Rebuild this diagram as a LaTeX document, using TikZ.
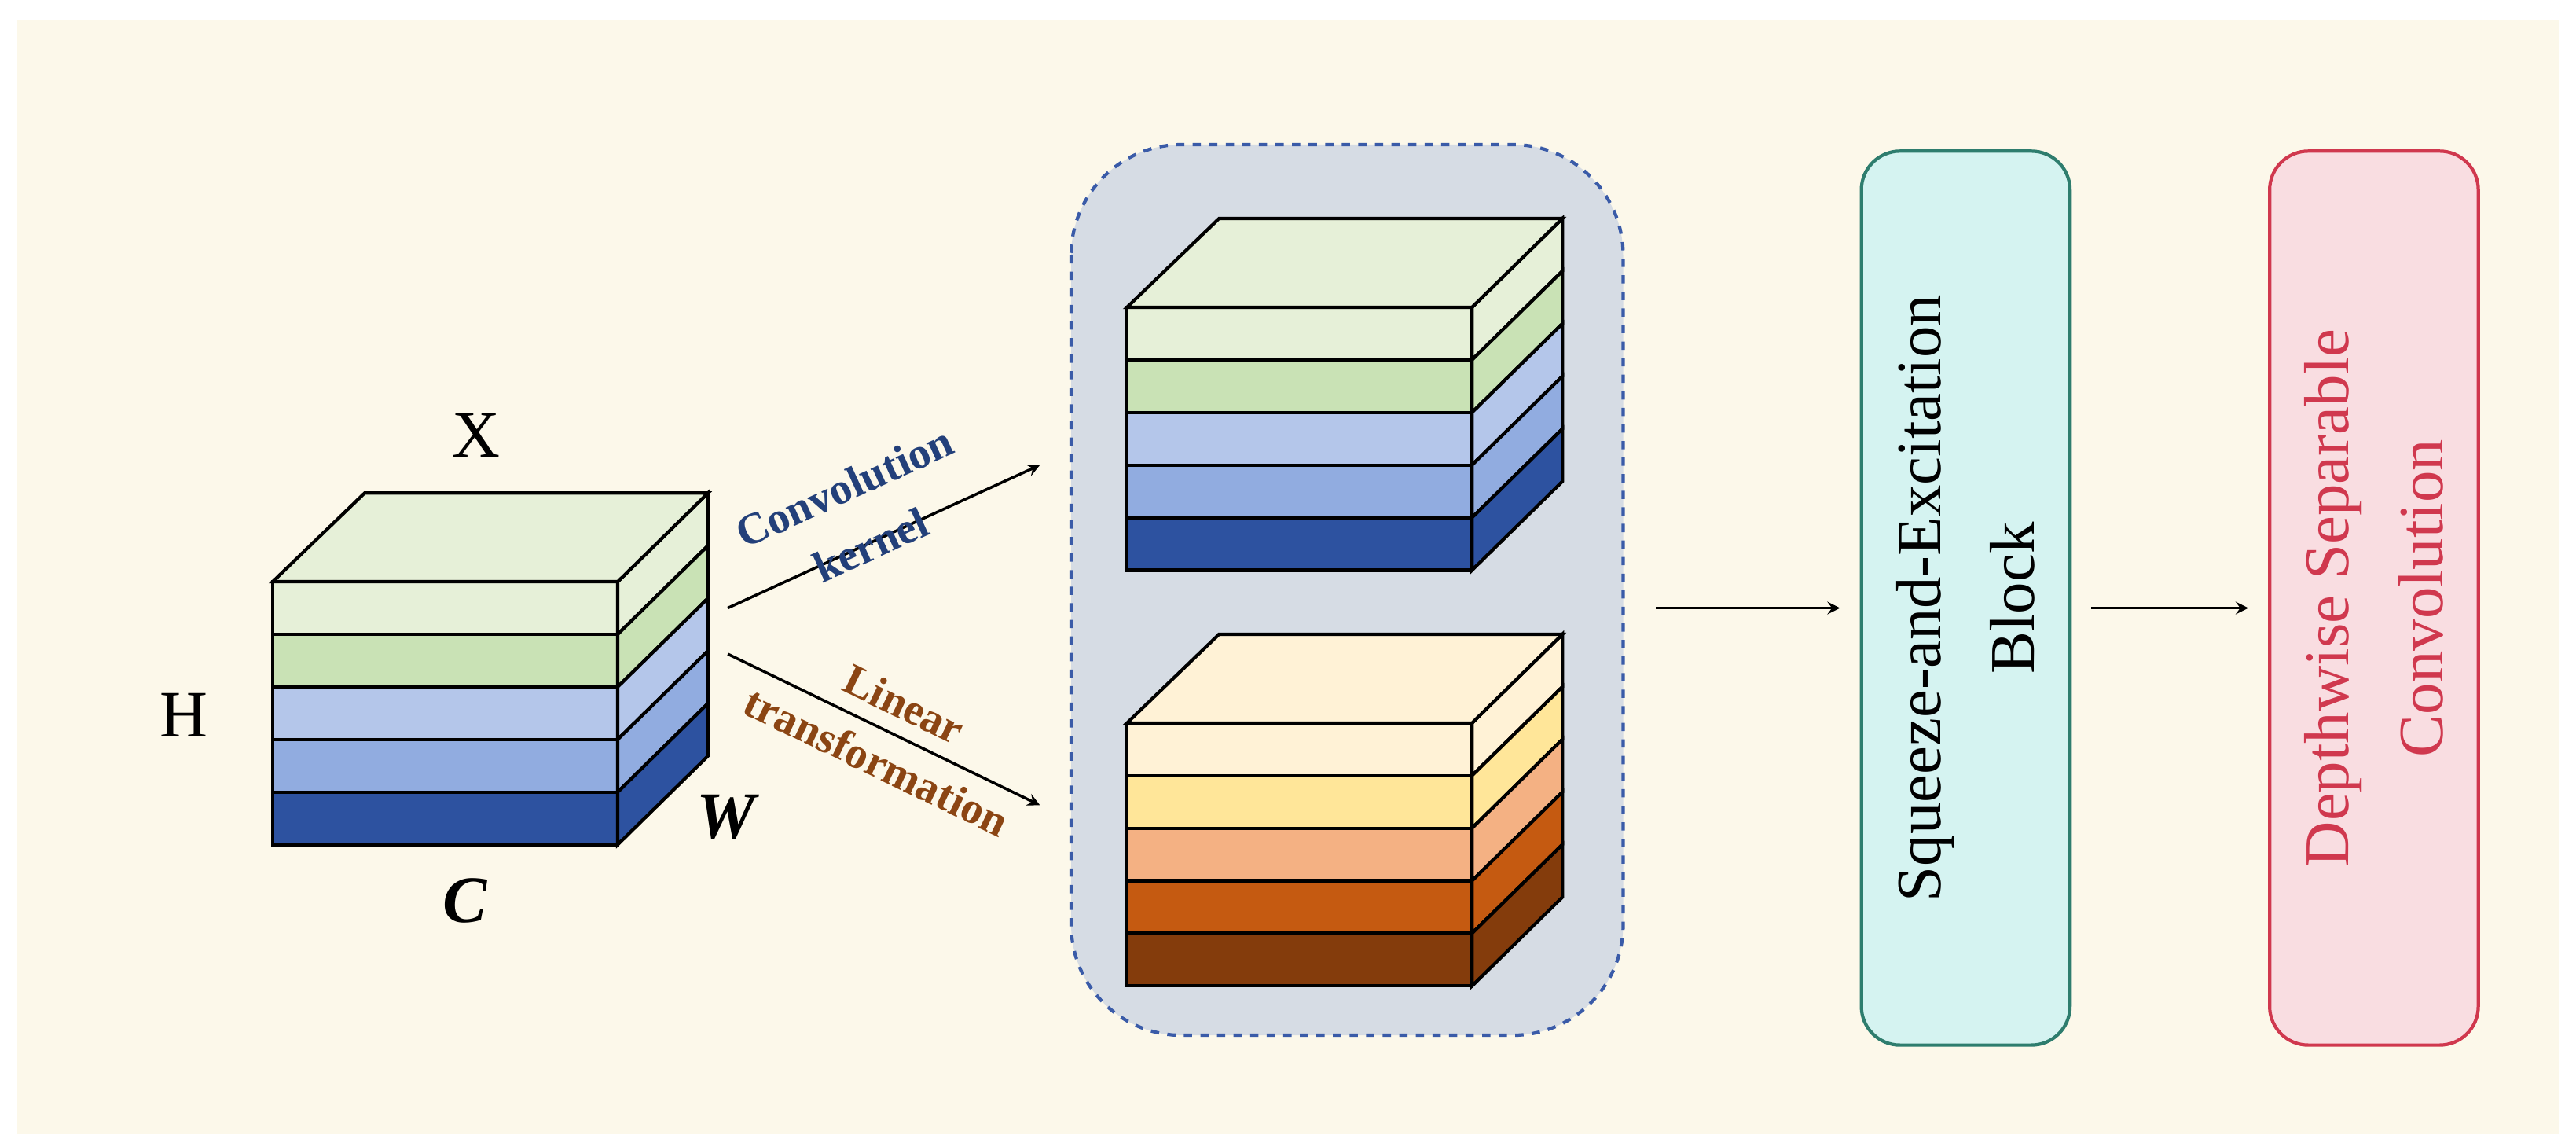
\documentclass[tikz,border=0pt]{standalone}
\usepackage{fontspec}
\setmainfont{Liberation Serif}
\usetikzlibrary{positioning}
\definecolor{bgbeige}{HTML}{FCF8EA}
\definecolor{gA}{HTML}{E6F0D8}
\definecolor{gB}{HTML}{C9E2B5}
\definecolor{bA}{HTML}{B4C6EA}
\definecolor{bB}{HTML}{91ACE0}
\definecolor{bC}{HTML}{2D52A0}
\definecolor{oA}{HTML}{FFF2D6}
\definecolor{oB}{HTML}{FFE699}
\definecolor{oC}{HTML}{F4B183}
\definecolor{oD}{HTML}{C55A11}
\definecolor{oE}{HTML}{843C0C}
\definecolor{convblue}{HTML}{23407A}
\definecolor{linbrown}{HTML}{8B4513}
\definecolor{sefill}{HTML}{D5F3F1}
\definecolor{seline}{HTML}{2E7D6E}
\definecolor{dsfill}{HTML}{F9DDE1}
\definecolor{dsline}{HTML}{D0384E}
\definecolor{grpfill}{HTML}{D6DCE4}
\definecolor{grpline}{HTML}{3A5BA8}

\newlength{\unitsz}
\setlength{\unitsz}{0.0209cm}

% cube: x, y (front top-left), then five layer colours
\newcommand{\layercube}[7]{
  \foreach \c [count=\k from 0] in {#3,#4,#5,#6,#7} {
    \filldraw[fill=\c, line width=1.2pt] (#1, #2+32*\k) rectangle (#1+210, #2+32*\k+32);
    \filldraw[fill=\c, line width=1.2pt] (#1+210, #2+32*\k) -- (#1+265, #2+32*\k-54)
      -- (#1+265, #2+32*\k-22) -- (#1+210, #2+32*\k+32) -- cycle;
  }
  \filldraw[fill=#3, line width=1.2pt] (#1, #2) -- (#1+56, #2-54) -- (#1+265, #2-54) -- (#1+210, #2) -- cycle;
}

\tikzset{
  lbl/.style={font=\fontsize{24}{28}\selectfont},
  slant/.style={font=\fontsize{16}{23}\selectfont\bfseries, align=center},
  block/.style={rounded corners=14pt, line width=1.2pt, minimum height=127\unitsz, minimum width=544\unitsz,
    font=\fontsize{23}{34}\selectfont, align=center},
  flow/.style={->, line width=1pt, >=stealth}
}

\begin{document}
\begin{tikzpicture}[x=0.0209cm, y=-0.0209cm]
  \useasboundingbox (0,0) rectangle (1568,697);
  \fill[white] (0,0) rectangle (1568,697);
  \fill[bgbeige] (10,12) rectangle (1558,690);

  % input tensor
  \layercube{166}{354}{gA}{gB}{bA}{bB}{bC}
  \node[lbl] (xlab) at (290,265) {X};
  \node[lbl] (hlab) at (112,435) {H};
  \node[lbl, font=\fontsize{24}{28}\selectfont\bfseries\itshape] (clab) at (283,548) {C};
  \node[lbl, font=\fontsize{24}{28}\selectfont\bfseries\itshape] (wlab) at (442,497) {W};

  % group of two branches
  \draw[grpline, dashed, line width=1.2pt, fill=grpfill, rounded corners=40pt] (652,88) rectangle (988,630);
  \layercube{686}{187}{gA}{gB}{bA}{bB}{bC}
  \layercube{686}{440}{oA}{oB}{oC}{oD}{oE}

  \coordinate (convs) at (443,370);
  \coordinate (conve) at (633,283);
  \coordinate (lins) at (443,398);
  \coordinate (line) at (633,490);
  \draw[flow] (convs) -- (conve);
  \draw[flow] (lins) -- (line);
  \node[slant, text=convblue, rotate=24.6] (convlab) at (522,314) {Convolution\\kernel};
  \node[slant, text=linbrown, rotate=-25.8] (linlab) at (542,446) {Linear\\transformation};

  \node[block, draw=seline, fill=sefill, rotate=90] (se) at (1196.5,364) {Squeeze-and-Excitation\\Block};
  \node[block, draw=dsline, fill=dsfill, text=dsline, rotate=90] (ds) at (1445,364) {Depthwise Separable\\Convolution};

  \coordinate (grpout) at (1008,370);
  \draw[flow] (grpout) -- ([xshift=-12\unitsz]grpout -| se.north);
  \draw[flow] ([xshift=12\unitsz]se.south |- grpout) -- ([xshift=-12\unitsz]grpout -| ds.north);
\end{tikzpicture}
\end{document}
